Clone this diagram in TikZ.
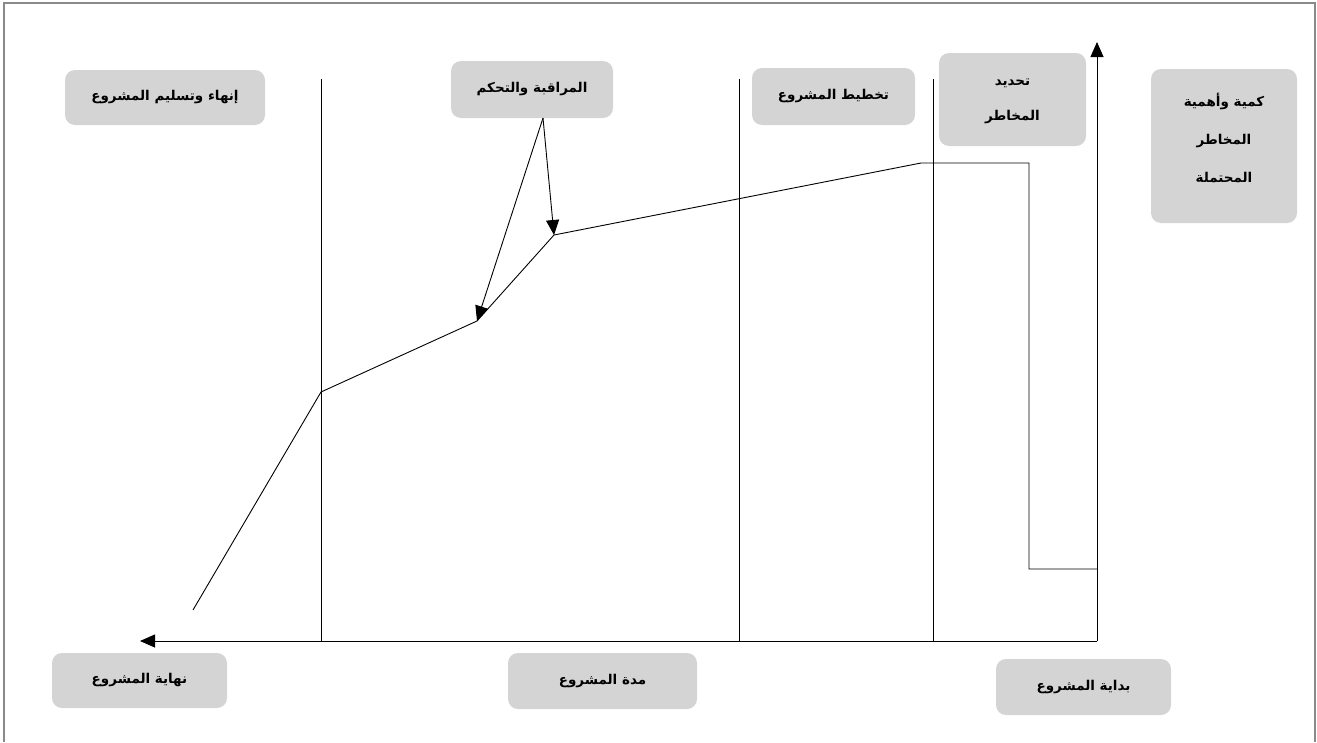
\documentclass[tikz,border=0pt]{standalone}
\usepackage{fontspec}
\newfontfamily\arabicfont[Script=Arabic]{DejaVu Sans}
\TeXXeTstate=1
\usetikzlibrary{arrows.meta}
\definecolor{boxgray}{HTML}{D4D4D4}
\definecolor{framegray}{HTML}{8A8A8A}
\newcommand{\ar}[1]{\beginR #1\endR}
\begin{document}
\begin{tikzpicture}[x=1pt,y=-1pt,
  box/.style={fill=boxgray, rounded corners=10pt, inner sep=0pt, align=center,
    font=\arabicfont\bfseries\fontsize{13.5}{16}\selectfont},
  line/.style={line width=0.9pt, black},
  arr/.style={line, -{Triangle[length=15pt,width=13pt]}},
  frame/.style={line width=1.2pt, framegray}]
\useasboundingbox (0,0) rectangle (1317,742);

% outer frame (open at the bottom)
\draw[frame] (4,742) -- (4,3) -- (1315,3) -- (1315,742);

% labels
\node[box, minimum width=200pt, minimum height=55pt] (finish) at (165,97.5) {\ar{إنهاء وتسليم المشروع}};
\node[box, minimum width=162pt, minimum height=57pt] (monitor) at (532,89.5) {\ar{المراقبة والتحكم}};
\node[box, minimum width=163pt, minimum height=57pt] (plan) at (833.5,96.5) {\ar{تخطيط المشروع}};
\node[box, minimum width=147pt, minimum height=93pt] (identify) at (1012.5,99.5) {\mbox{}\\[-6pt]\ar{تحديد}\\[19pt]\ar{المخاطر}};
\node[box, minimum width=146pt, minimum height=154pt] (quantity) at (1224,146) {\ar{كمية وأهمية}\\[22pt]\ar{المخاطر}\\[22pt]\ar{المحتملة}\\\mbox{}};
\node[box, minimum width=175pt, minimum height=55pt] (endp) at (139.5,680.5) {\ar{نهاية المشروع}};
\node[box, minimum width=189pt, minimum height=56pt] (duration) at (602.5,681) {\ar{مدة المشروع}};
\node[box, minimum width=175pt, minimum height=56pt] (startp) at (1083.5,687) {\ar{بداية المشروع}};

% axes
\coordinate (O) at (1097,641);
\coordinate (ytip) at (1097,42);
\coordinate (xtip) at (140,641);
\draw[arr] (O) -- (ytip);
\draw[arr] (O) -- (xtip);

% phase separators
\foreach \x/\n in {321/a, 739/b, 933/c} {
  \coordinate (\n top) at (\x,79);
  \coordinate (\n bot) at (\x,641);
  \draw[line] (\n top) -- (\n bot);
}

% risk curve
\coordinate (c0) at (1097,569);
\coordinate (c1) at (1029,569);
\coordinate (c2) at (1029,163);
\coordinate (c3) at (921,163);
\coordinate (c4) at (554,235);
\coordinate (c5) at (477,321);
\coordinate (c6) at (321,392);
\coordinate (c7) at (193,610);
\draw[line] (c0) -- (c1) -- (c2) -- (c3) -- (c4) -- (c5) -- (c6) -- (c7);

% monitoring pointers
\coordinate (m) at (543,118);
\draw[arr] (m) -- (c4);
\draw[arr] (m) -- (c5);
\end{tikzpicture}
\end{document}
